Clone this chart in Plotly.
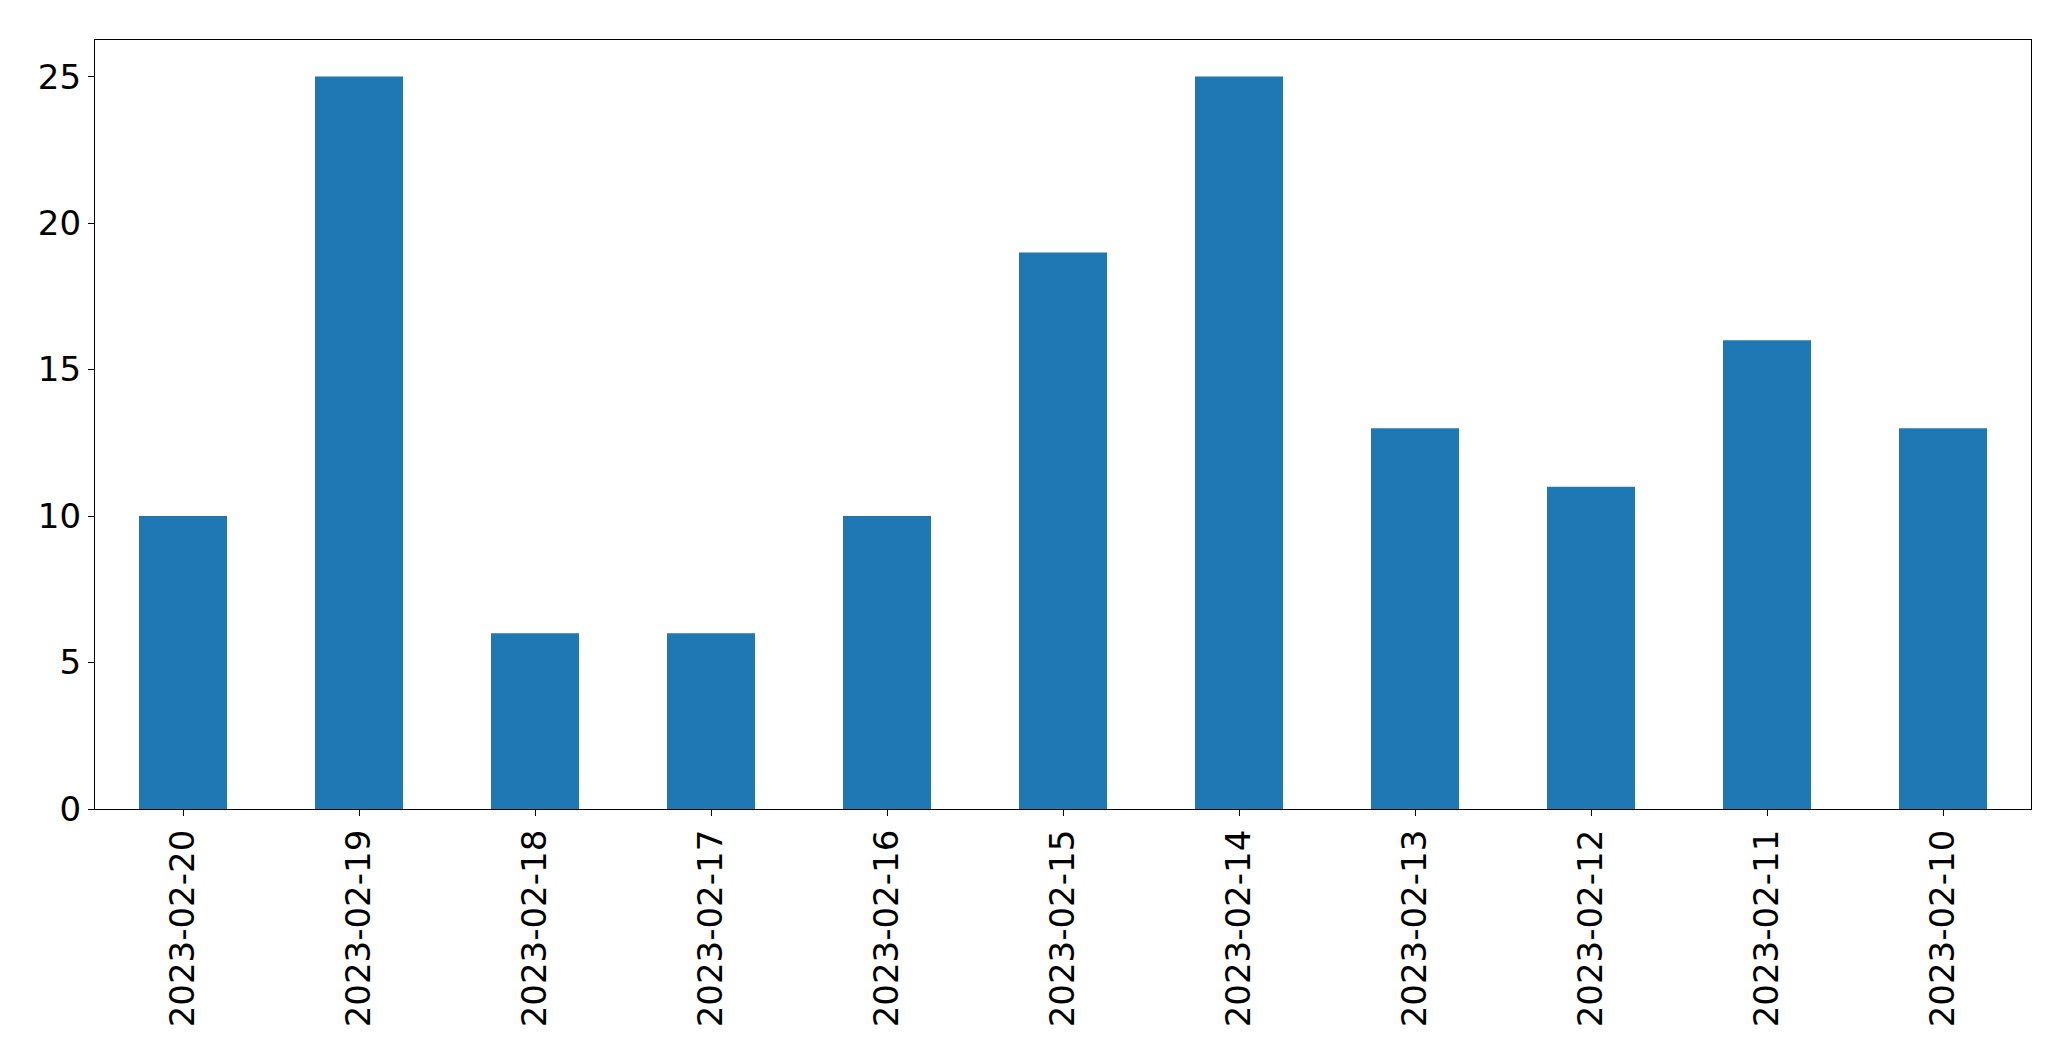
import plotly.graph_objects as go

dates = ["2023-02-20", "2023-02-19", "2023-02-18", "2023-02-17", "2023-02-16",
         "2023-02-15", "2023-02-14", "2023-02-13", "2023-02-12", "2023-02-11", "2023-02-10"]
counts = [10, 25, 6, 6, 10, 19, 25, 13, 11, 16, 13]
y_ticks = [0, 5, 10, 15, 20, 25]

fig = go.Figure(go.Bar(x=dates, y=counts, width=0.5, marker_color="#1f77b4",
                       marker_line_width=0))

font = dict(family="DejaVu Sans", size=34, color="black")
fig.update_layout(
    width=2071, height=1061,
    margin=dict(l=94.5, r=39.5, t=39.5, b=252),
    paper_bgcolor="white", plot_bgcolor="white",
    showlegend=False,
    font=font,
)
fig.update_xaxes(type="category", range=[-0.5, 10.5], tickangle=-90,
                 showline=True, linecolor="black", linewidth=1.3, mirror=True,
                 ticks="outside", ticklen=6, tickwidth=1.3, tickcolor="black",
                 showgrid=False, tickfont=font)
fig.update_yaxes(range=[0, 26.25], tickvals=y_ticks, ticktext=[str(v) for v in y_ticks],
                 showline=True, linecolor="black", linewidth=1.3, mirror=True,
                 ticks="outside", ticklen=6, tickwidth=1.3, tickcolor="black",
                 showgrid=False, zeroline=False, tickfont=font)

fig.write_html("out.html", config={"displayModeBar": False},
               post_script="document.body.style.margin='0';document.body.style.overflow='hidden';")
